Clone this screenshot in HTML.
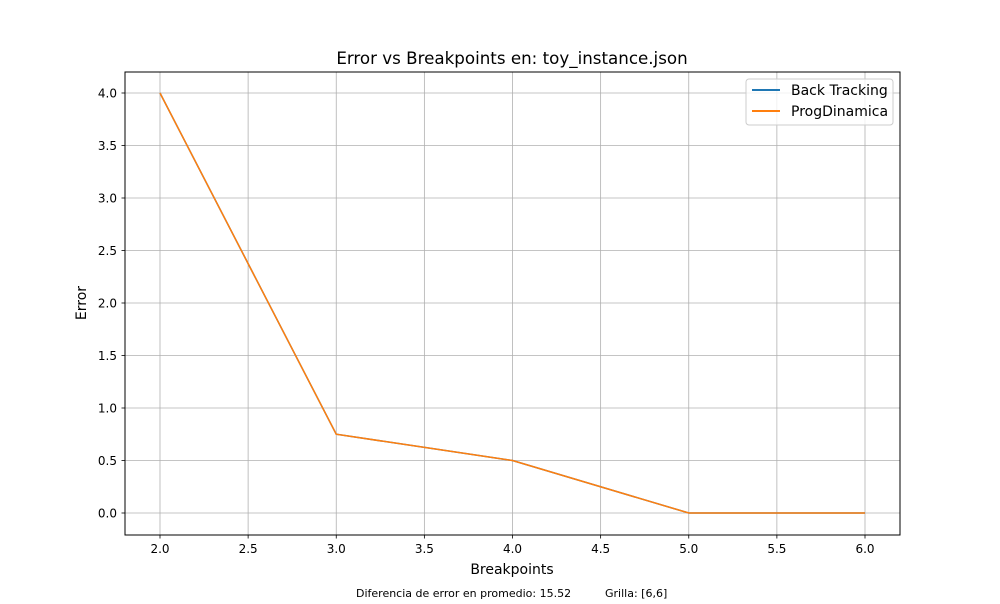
<!DOCTYPE html>
<html><head><meta charset="utf-8"><style>
body{margin:0;background:#fff;font-family:"DejaVu Sans","Liberation Sans",sans-serif;}
svg text{font-family:"DejaVu Sans","Liberation Sans",sans-serif;}
</style></head><body>
<svg id="chart" width="1000" height="600" xmlns="http://www.w3.org/2000/svg">
<rect width="1000" height="600" fill="#fff"/>
<g id="grid"></g>
<g id="lines"></g>
<g id="ticks"></g>
<rect x="125" y="72" width="775" height="463" fill="none" stroke="#000" stroke-width="1"/>
<text x="512" y="64" font-size="16.7" text-anchor="middle">Error vs Breakpoints en: toy_instance.json</text>
<text x="512" y="574" font-size="14" text-anchor="middle">Breakpoints</text>
<text x="0" y="0" font-size="14" text-anchor="middle" transform="translate(86,303) rotate(-90)">Error</text>
<text x="356" y="597" font-size="11">Diferencia de error en promedio: 15.52</text>
<text x="605" y="597" font-size="11">Grilla: [6,6]</text>
<g>
<rect x="746" y="79" width="147" height="46" rx="3" fill="#fff" fill-opacity="0.8" stroke="#ccc"/>
<g>
<line x1="752" y1="90" x2="780" y2="90" stroke="#1f77b4" stroke-width="2"/>
<text x="791" y="95" font-size="14">Back Tracking</text></g>
<g>
<line x1="752" y1="111" x2="780" y2="111" stroke="#ff7f0e" stroke-width="2"/>
<text x="791" y="116" font-size="14">ProgDinamica</text></g>
</g>
</svg>
<script>
const breakpoints=[2,3,4,5,6];
const backTracking=[4,0.75,0.5,0,0];
const progDinamica=[4,0.75,0.5,0,0];
const xTicks=[2.0,2.5,3.0,3.5,4.0,4.5,5.0,5.5,6.0];
const yTicks=[0.0,0.5,1.0,1.5,2.0,2.5,3.0,3.5,4.0];
const NS="http://www.w3.org/2000/svg";
function xs(v){return 160+(v-2)*176.25;}
function ys(v){return 513-v*105;}
const grid=document.getElementById('grid'),ticks=document.getElementById('ticks'),lines=document.getElementById('lines');
function mk(tag,attrs,parent){const e=document.createElementNS(NS,tag);for(const k in attrs)e.setAttribute(k,attrs[k]);parent.appendChild(e);return e;}
xTicks.forEach(t=>{const x=xs(t);
const g=mk('line',{x1:x,y1:72,x2:x,y2:535,stroke:'#b0b0b0','stroke-width':0.8},grid);


mk('line',{x1:x,y1:535,x2:x,y2:538.5,stroke:'#000','stroke-width':0.8},ticks);
const l=mk('text',{x:x,y:553,'font-size':12,'text-anchor':'middle'},ticks);l.textContent=t.toFixed(1);

});
yTicks.forEach(t=>{const y=ys(t);
const g=mk('line',{x1:125,y1:y,x2:900,y2:y,stroke:'#b0b0b0','stroke-width':0.8},grid);


mk('line',{x1:121.5,y1:y,x2:125,y2:y,stroke:'#000','stroke-width':0.8},ticks);
const l=mk('text',{x:117,y:y+4.5,'font-size':12,'text-anchor':'end'},ticks);l.textContent=t.toFixed(1);

});
function series(vals,color,name){const p=mk('polyline',{points:breakpoints.map((b,i)=>xs(b)+','+ys(vals[i])).join(' '),fill:'none',stroke:color,'stroke-width':1.5},lines);

}
series(backTracking,'#1f77b4','back-tracking-line');
series(progDinamica,'#ff7f0e','progdinamica-line');
</script>
</body></html>
